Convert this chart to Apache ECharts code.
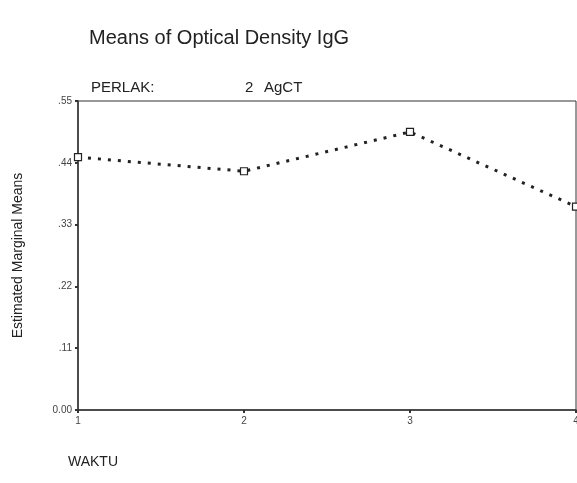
<!DOCTYPE html>
<html>
<head>
<meta charset="utf-8">
<script src="https://cdn.jsdelivr.net/npm/echarts@6/dist/echarts.min.js"></script>
<style>
    html, body {margin:0;padding:0;background:#fff;}
    #chart {width:577px;height:483px;}
</style>
</head>
<body>
<div id="chart"></div>
<script>
    // data
    var waktu = ['1', '2', '3', '4'];
    var means = [0.450, 0.425, 0.495, 0.362];
    var yTicks = [0, 0.11, 0.22, 0.33, 0.44, 0.55];
    var yTickLabels = ['0.00', '.11', '.22', '.33', '.44', '.55'];

    var chart = echarts.init(document.getElementById('chart'));
    var font = '"Liberation Sans", Arial, sans-serif';
    var sub = {fontSize: 15, fontWeight: 'normal', color: '#222', fontFamily: font};

    var option = {
        animation: false,
        backgroundColor: '#fff',
        textStyle: {fontFamily: font},
        title: [
            {text: 'Means of Optical Density IgG', left: 84, top: 23,
             textStyle: {fontSize: 20, fontWeight: 'normal', color: '#222', fontFamily: font}},
            {text: 'PERLAK:', left: 86, top: 75, textStyle: sub},
            {text: '2', left: 240, top: 75, textStyle: sub},
            {text: 'AgCT', left: 259, top: 75, textStyle: sub}
        ],
        grid: {left: 78, right: 1, top: 101, bottom: 73, show: true, borderColor: '#333', borderWidth: 1,
               outerBoundsMode: 'none', containLabel: false},
        xAxis: {
            type: 'category',
            data: waktu,
            boundaryGap: false,
            name: 'WAKTU',
            nameLocation: 'start',
            nameGap: 0,
            nameTextStyle: {fontSize: 14, color: '#222', align: 'left', verticalAlign: 'top', padding: [45, 0, 0, -10]},
            axisLine: {lineStyle: {color: '#333', width: 1.5}},
            axisTick: {show: true, length: 3, lineStyle: {color: '#333', width: 2}},
            axisLabel: {fontSize: 10, color: '#444', margin: 6},
            splitLine: {show: false}
        },
        yAxis: {
            type: 'value',
            min: 0,
            max: 0.55,
            interval: 0.11,
            name: 'Estimated Marginal Means',
            nameLocation: 'middle',
            nameGap: 53,
            nameTextStyle: {fontSize: 14, color: '#222'},
            axisLine: {show: true, lineStyle: {color: '#333', width: 1.5}},
            axisTick: {show: true, length: 3, lineStyle: {color: '#333', width: 2}},
            axisLabel: {
                fontSize: 10, color: '#444', margin: 6,
                formatter: function (v) {
                    for (var i = 0; i < yTicks.length; i++) {
                        if (Math.abs(yTicks[i] - v) < 1e-6) return yTickLabels[i];
                    }
                    return '';
                }
            },
            splitLine: {show: false}
        },
        series: [{
            type: 'line',
            data: means,
            symbol: 'rect',
            symbolSize: 7,
            itemStyle: {color: '#fff', borderColor: '#222', borderWidth: 1.2},
            lineStyle: {color: '#222', width: 3, type: [3, 7], cap: 'butt'},
            clip: false
        }]
    };
    chart.setOption(option);
</script>
</body>
</html>
